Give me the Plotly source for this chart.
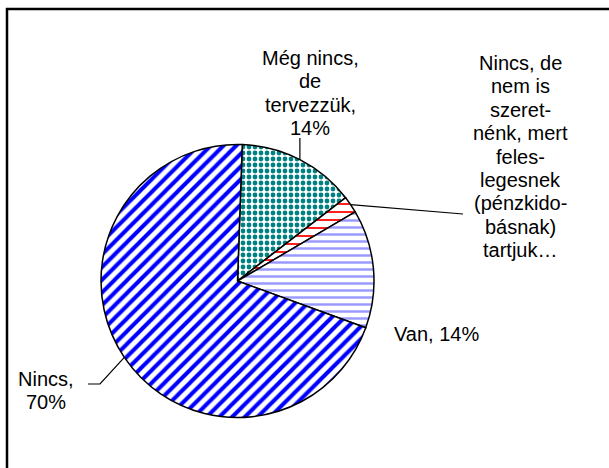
import math
import plotly.graph_objects as go

# ---- data ----
labels = [
    "Még nincs, de tervezzük",
    "Nincs, de nem is szeretnénk, mert feleslegesnek (pénzkidobásnak) tartjuk…",
    "Van",
    "Nincs",
]
values = [14, 2, 14, 70]
label_lines = [
    ["Még nincs,", "de", "tervezzük,", "14%"],
    ["Nincs, de", "nem is", "szeret-", "nénk, mert", "feles-", "legesnek",
     "(pénzkido-", "básnak)", "tartjuk…"],
    ["Van, 14%"],
    ["Nincs,", "70%"],
]

# ---- styles ----
W, H = 609, 468
CX, CY, R = 237.5, 281, 136.5  # pie centre / radius in px
ROTATION = 2
FONT = dict(family="Liberation Sans, Arial, sans-serif", size=20, color="black")
LINE_STEP = 23.4

patterns = [
    dict(shape=".", fgcolor="#008080", bgcolor="white", size=6, solidity=0.5),
    dict(shape="-", fgcolor="#FF2020", bgcolor="white", size=8, solidity=0.25),
    dict(shape="-", fgcolor="#9999FF", bgcolor="white", size=7, solidity=0.35),
    dict(shape="/", fgcolor="#0000FF", bgcolor="white", size=9, solidity=0.45),
]


def px(x, y):
    return x / W, 1 - y / H


fig = go.Figure(
    go.Pie(
        labels=labels,
        values=values,
        sort=False,
        direction="clockwise",
        rotation=ROTATION,
        textinfo="none",
        hoverinfo="label+percent",
        marker=dict(
            colors=["white"] * 4,
            line=dict(color="black", width=1.5),
            pattern=dict(
                shape=[p["shape"] for p in patterns],
                fgcolor=[p["fgcolor"] for p in patterns],
                bgcolor=[p["bgcolor"] for p in patterns],
                size=[p["size"] for p in patterns],
                solidity=[p["solidity"] for p in patterns],
            ),
        ),
        domain=dict(
            x=[(CX - R) / W, (CX + R) / W],
            y=[1 - (CY + R) / H, 1 - (CY - R) / H],
        ),
        showlegend=False,
    )
)

# slice mid-angles (clockwise from 12 o'clock) derived from data
total = sum(values)
mids = []
cum = 0
for v in values:
    mids.append(math.radians(ROTATION) + (cum + v / 2) / total * 2 * math.pi)
    cum += v


def on_circle(i):
    a = mids[i]
    return CX + R * math.sin(a), CY - R * math.cos(a)


shapes = []
# frame
shapes.append(dict(type="rect", xref="paper", yref="paper",
                   x0=7 / W, x1=1.05, y0=-0.05, y1=1 - 9 / H,
                   line=dict(color="black", width=2.5), fillcolor="rgba(0,0,0,0)"))

# leader lines
x0, y0 = on_circle(0)
shapes.append(dict(type="line", xref="paper", yref="paper",
                   x0=px(x0, y0)[0], y0=px(x0, y0)[1], x1=px(x0, 138)[0], y1=px(x0, 138)[1],
                   line=dict(color="black", width=1.2)))
x1, y1 = on_circle(1)
shapes.append(dict(type="line", xref="paper", yref="paper",
                   x0=px(x1, y1)[0], y0=px(x1, y1)[1], x1=px(463, 214)[0], y1=px(463, 214)[1],
                   line=dict(color="black", width=1.2)))
x3, y3 = on_circle(3)
pa = px(x3, y3)
pb = px(100, 384)
pc = px(88, 384)
shapes.append(dict(type="path", xref="paper", yref="paper",
                   path=f"M {pa[0]} {pa[1]} L {pb[0]} {pb[1]} L {pc[0]} {pc[1]}",
                   line=dict(color="black", width=1.2)))

annotations = []
# (centre x, y of first line) in px
label_pos = [(310, 58), (520, 63), (436, 334), (46, 379)]
for lines, (lx, ly) in zip(label_lines, label_pos):
    for k, line in enumerate(lines):
        ax, ay = px(lx, ly + k * LINE_STEP)
        annotations.append(dict(text=line, x=ax, y=ay, xref="paper", yref="paper",
                                xanchor="center", yanchor="middle", align="center",
                                showarrow=False, font=FONT))

fig.update_layout(
    width=W, height=H,
    margin=dict(l=0, r=0, t=0, b=0),
    paper_bgcolor="white",
    plot_bgcolor="white",
    shapes=shapes,
    annotations=annotations,
    font=FONT,
)

fig.write_html("out.html", config={"displayModeBar": False},
               post_script="document.body.style.margin='0';")
